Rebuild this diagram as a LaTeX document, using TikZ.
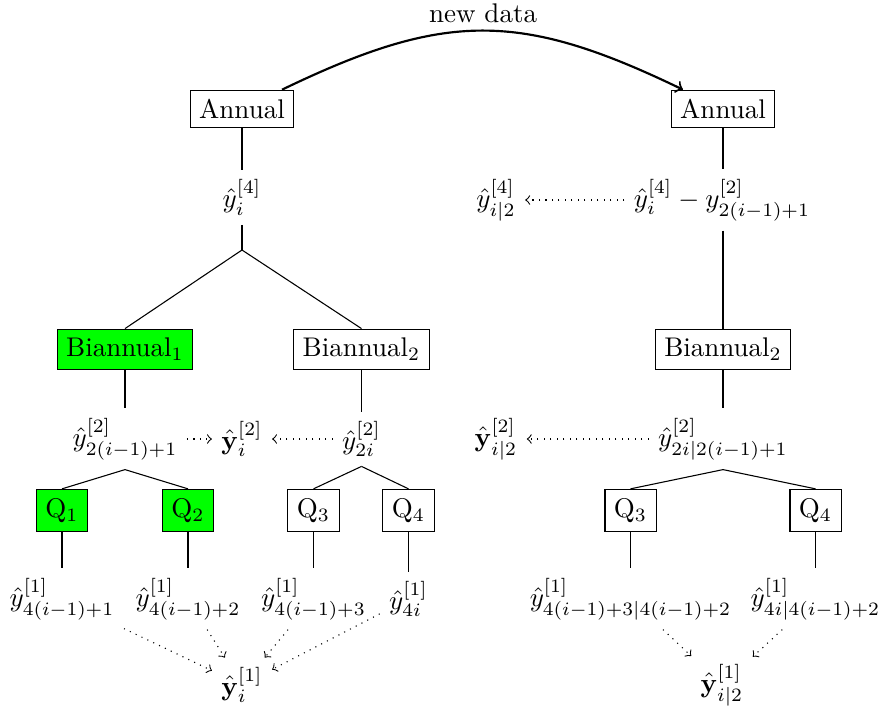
\documentclass[tikz,border=0pt]{standalone}
\usetikzlibrary{arrows}
\tikzset{
  box/.style={draw, rectangle, inner sep=3.33pt},
  hl/.style={box, fill=green},
  val/.style={inner sep=3.33pt},
  dots/.style={dotted, ->},
  flow/.style={thick, ->},
}
\begin{document}
\begin{tikzpicture}[x=0.37037pt,y=-0.37037pt]
\useasboundingbox (0,0) rectangle (881,708);
% ---------- left tree ----------
\node[box] (a1) at (242,109) {Annual};
\node[val] (y4) at (242,197.5) {$\hat{y}^{[4]}_{i}$};
\coordinate (ap1) at (242,250);
\node[hl]  (b1) at (125,349.5) {Biannual$_1$};
\node[box] (b2) at (361.5,349.5) {Biannual$_2$};
\node[val] (y21) at (125,439) {$\hat{y}^{[2]}_{2(i-1)+1}$};
\node[val] (yb2) at (242,439) {$\hat{\mathbf{y}}^{[2]}_{i}$};
\node[val] (y22) at (361.5,439) {$\hat{y}^{[2]}_{2i}$};
\node[hl]  (q1) at (62,510.5) {Q$_1$};
\node[hl]  (q2) at (188,510.5) {Q$_2$};
\node[box] (q3) at (313.5,510.5) {Q$_3$};
\node[box] (q4) at (408.5,510.5) {Q$_4$};
\node[val] (l1) at (62,599) {$\hat{y}^{[1]}_{4(i-1)+1}$};
\node[val] (l2) at (188,599) {$\hat{y}^{[1]}_{4(i-1)+2}$};
\node[val] (l3) at (313.5,599) {$\hat{y}^{[1]}_{4(i-1)+3}$};
\node[val] (l4) at (408.5,599) {$\hat{y}^{[1]}_{4i}$};
\node[val] (yb1) at (242,685) {$\hat{\mathbf{y}}^{[1]}_{i}$};

\draw (a1) -- (y4);
\draw (y4) -- (ap1);
\draw (ap1) -- (b1.north);
\draw (ap1) -- (b2.north);
\draw (b1) -- (y21);
\draw (b2) -- (y22);
\draw (y21.south) -- (q1.north);
\draw (y21.south) -- (q2.north);
\draw (y22.south) -- (q3.north);
\draw (y22.south) -- (q4.north);
\draw (q1) -- (l1);
\draw (q2) -- (l2);
\draw (q3) -- (l3);
\draw (q4) -- (l4);
\draw[dots] (y21) -- (yb2);
\draw[dots] (y22) -- (yb2);
\draw[dots] (l1) -- (yb1);
\draw[dots] (l2) -- (yb1);
\draw[dots] (l3) -- (yb1);
\draw[dots] (l4) -- (yb1);

% ---------- right tree ----------
\node[box] (a2) at (723,109) {Annual};
\node[val] (r4) at (722,200) {$\hat{y}^{[4]}_{i} - y^{[2]}_{2(i-1)+1}$};
\node[val] (ry4) at (496,200) {$\hat{y}^{[4]}_{i|2}$};
\node[box] (rb2) at (723,349.5) {Biannual$_2$};
\node[val] (r2) at (723,439) {$\hat{y}^{[2]}_{2i|2(i-1)+1}$};
\node[val] (ryb2) at (496,439) {$\hat{\mathbf{y}}^{[2]}_{i|2}$};
\node[box] (rq3) at (630.5,510.5) {Q$_3$};
\node[box] (rq4) at (815.5,510.5) {Q$_4$};
\node[val] (rl3) at (630.5,599) {$\hat{y}^{[1]}_{4(i-1)+3|4(i-1)+2}$};
\node[val] (rl4) at (815.5,599) {$\hat{y}^{[1]}_{4i|4(i-1)+2}$};
\node[val] (ryb1) at (722,685) {$\hat{\mathbf{y}}^{[1]}_{i|2}$};

\draw (a2) -- (a2 |- r4.north);
\draw (a2 |- r4.south) -- (rb2);
\draw (rb2) -- (r2);
\draw (r2.south) -- (rq3.north);
\draw (r2.south) -- (rq4.north);
\draw (rq3) -- (rl3);
\draw (rq4) -- (rl4);
\draw[dots] (r4) -- (ry4);
\draw[dots] (r2) -- (ryb2);
\draw[dots] (rl3) -- (ryb1);
\draw[dots] (rl4) -- (ryb1);

% ---------- new data ----------
\coordinate (c1) at (445,11);
\coordinate (c2) at (520,11);
\draw[flow] (a1) .. controls (c1) and (c2) .. (a2);
\node[anchor=base] (nd) at (483,22) {new data};
\end{tikzpicture}
\end{document}
